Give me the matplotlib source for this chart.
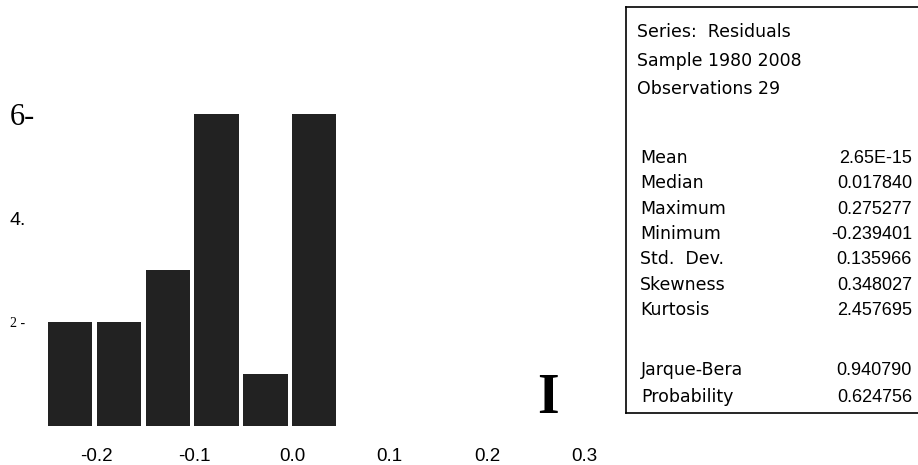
import matplotlib
matplotlib.use("Agg")
from matplotlib import pyplot as plt
from matplotlib.lines import Line2D

# histogram of residuals (bins of 0.05)
bin_left = [-0.25, -0.20, -0.15, -0.10, -0.05, 0.00]
counts = [2, 2, 3, 6, 1, 6]
bin_width = 0.05

xticks = [-0.2, -0.1, 0.0, 0.1, 0.2, 0.3]
xtick_labels = ["-0.2", "-0.1", "0.0", "0.1", "0.2", "0.3"]
yticks = [2, 4, 6]
ytick_labels = ["2 -", "4.", "6-"]

header = ["Series:  Residuals", "Sample 1980 2008", "Observations 29"]
stat_names = ["Mean", "Median", "Maximum", "Minimum", "Std.  Dev.", "Skewness", "Kurtosis"]
stat_values = ["2.65E-15", "0.017840", "0.275277", "-0.239401", "0.135966", "0.348027", "2.457695"]
test_names = ["Jarque-Bera", "Probability"]
test_values = ["0.940790", "0.624756"]

W, H = 918, 465
fig = plt.figure(figsize=(W / 100, H / 100), dpi=100)

# axes placed in pixels: x(v) = 292 + 976 v, y(0) at 426 px, 52 px per count
x0, xs = 292, 976
ax_l, ax_r = 30, 620
ax_b, ax_t = 426, 36
ax = fig.add_axes([ax_l / W, (H - ax_b) / H, (ax_r - ax_l) / W, (ax_b - ax_t) / H])
ax.set_xlim((ax_l - x0) / xs, (ax_r - x0) / xs)
ax.set_ylim(0, (ax_b - ax_t) / 52)

ax.bar(bin_left, counts, width=bin_width * 0.91, align="edge", color="#222222")

for s in ax.spines.values():
    s.set_visible(False)

ax.set_xticks(xticks)
ax.set_xticklabels(xtick_labels, fontfamily="Liberation Sans", fontsize=13.5)
ax.tick_params(axis="x", length=0, pad=16)

ax.set_yticks(yticks)
ax.set_yticklabels(ytick_labels)
ax.tick_params(axis="y", length=0, pad=14.5)
ylab_fonts = [("Liberation Serif", 10), ("Liberation Sans", 14), ("Liberation Serif", 22)]
for lbl, (fam, sz) in zip(ax.get_yticklabels(), ylab_fonts):
    lbl.set_fontfamily(fam)
    lbl.set_fontsize(sz)
    lbl.set_horizontalalignment("left")

# scan artefact
ax.text(0.262, 0.52, "I", ha="center", va="center", fontfamily="Liberation Serif",
        fontweight="bold", fontsize=40)

# stats box (open on the right, runs off the page)
def fy(p):
    return 1 - p / H

bl, bt, bb = 626 / W, fy(7), fy(413)
for xs_, ys_ in [([bl, bl], [bt, bb]), ([bl, 1.01], [bt, bt]), ([bl, 1.01], [bb, bb])]:
    fig.add_artist(Line2D(xs_, ys_, color="black", lw=1.2))

# rows placed by baseline (px from top)
lab_font = dict(fontfamily="DejaVu Sans", fontsize=12.5, va="baseline", ha="left")
val_font = dict(fontfamily="Liberation Sans", fontsize=13, va="baseline", ha="right")
for i, line in enumerate(header):
    fig.text(637 / W, fy(37 + i * 28.5), line, **lab_font)
for i, (n, v) in enumerate(zip(stat_names, stat_values)):
    y = fy(163 + i * 25.3)
    fig.text(640 / W, y, n, **lab_font)
    fig.text(912 / W, y, v, **val_font)
for i, (n, v) in enumerate(zip(test_names, test_values)):
    y = fy(375 + i * 27)
    fig.text(641 / W, y, n, **lab_font)
    fig.text(912 / W, y, v, **val_font)

fig.savefig("out.png", dpi=100)
